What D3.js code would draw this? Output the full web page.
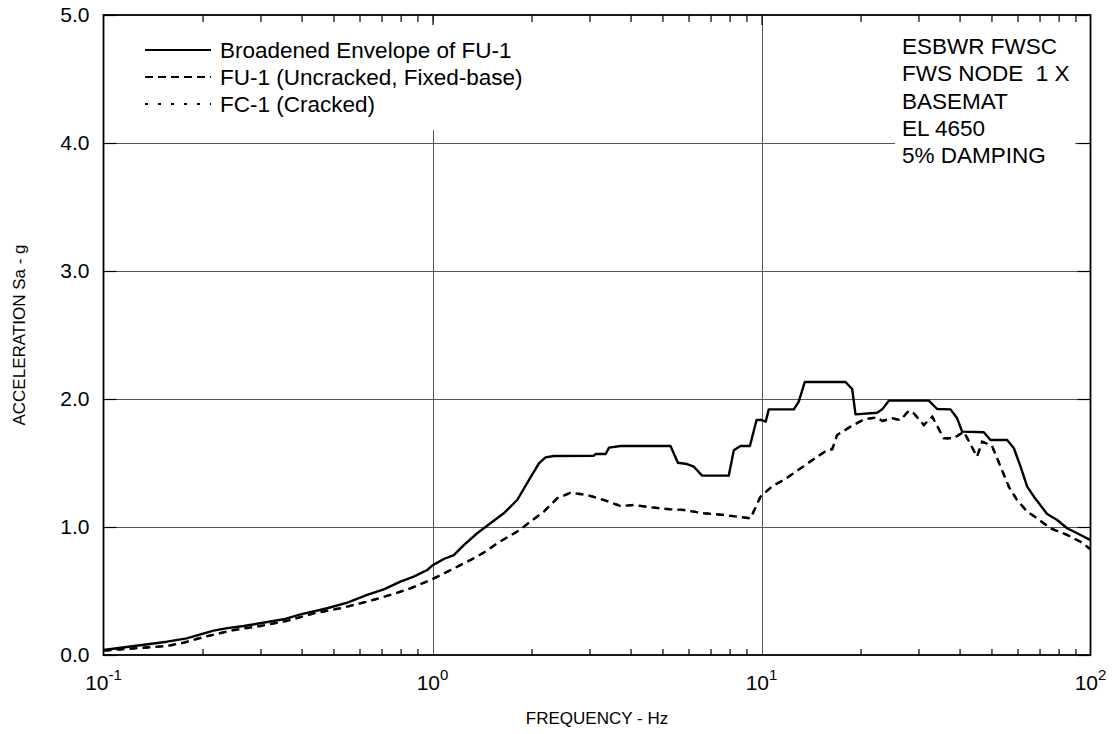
<!DOCTYPE html>
<html>
<head>
<meta charset="utf-8">
<script src="https://cdn.jsdelivr.net/npm/d3@7"></script>
<style>
  html, body { margin: 0; padding: 0; background: #fff; }
  svg { display: block; font-family: "Liberation Sans", Arial, sans-serif; }
</style>
</head>
<body>
<svg id="chart" width="1113" height="734"></svg>
<script>
// ---------------- data ----------------
const envFreq = [0.1, 0.124, 0.156, 0.179, 0.216, 0.238, 0.267, 0.353, 0.397, 0.479, 0.551, 0.633, 0.711, 0.799, 0.877, 0.964, 1.0, 1.082, 1.161, 1.245, 1.367, 1.50, 1.647, 1.809, 1.963, 2.106, 2.206, 2.337, 3.09, 3.13, 3.36, 3.44, 3.73, 5.29, 5.57, 5.94, 6.23, 6.60, 7.95, 8.24, 8.63, 9.22, 9.66, 10.0, 10.3, 10.52, 12.54, 12.98, 13.54, 18.0, 18.86, 19.31, 22.47, 23.27, 24.38, 32.26, 34.2, 37.54, 39.33, 40.73, 47.4, 49.66, 55.8, 58.5, 61.3, 64.2, 67.3, 73.8, 79.2, 84.9, 91.1, 100];
const envAcc  = [0.039, 0.07, 0.104, 0.13, 0.19, 0.21, 0.227, 0.279, 0.318, 0.365, 0.409, 0.469, 0.513, 0.573, 0.612, 0.664, 0.70, 0.75, 0.78, 0.859, 0.951, 1.029, 1.107, 1.211, 1.367, 1.497, 1.544, 1.555, 1.557, 1.57, 1.57, 1.62, 1.633, 1.633, 1.502, 1.492, 1.471, 1.401, 1.401, 1.60, 1.633, 1.633, 1.836, 1.836, 1.823, 1.919, 1.919, 1.979, 2.133, 2.133, 2.078, 1.880, 1.893, 1.919, 1.987, 1.987, 1.922, 1.919, 1.849, 1.745, 1.740, 1.680, 1.680, 1.615, 1.471, 1.315, 1.237, 1.102, 1.055, 0.99, 0.951, 0.898];

const fuFreq = [0.1, 0.124, 0.156, 0.175, 0.207, 0.249, 0.30, 0.361, 0.436, 0.525, 0.633, 0.745, 0.857, 0.986, 1.06, 1.305, 1.432, 1.573, 1.809, 1.986, 2.18, 2.393, 2.628, 2.95, 3.317, 3.73, 4.09, 4.60, 5.29, 5.80, 6.68, 7.68, 9.26, 9.93, 10.8, 11.69, 13.14, 14.77, 15.84, 16.4, 16.98, 18.65, 20.47, 22.47, 23.27, 24.95, 26.46, 28.04, 29.04, 31.14, 33.02, 35.8, 38.4, 41.2, 45.2, 46.85, 50.2, 53.3, 56.45, 59.8, 64.2, 68.85, 75.5, 84.9, 93.2, 100];
const fuAcc  = [0.034, 0.052, 0.07, 0.096, 0.148, 0.195, 0.227, 0.266, 0.326, 0.365, 0.417, 0.469, 0.521, 0.586, 0.625, 0.742, 0.80, 0.873, 0.964, 1.042, 1.12, 1.224, 1.268, 1.25, 1.211, 1.164, 1.172, 1.154, 1.138, 1.133, 1.107, 1.094, 1.068, 1.237, 1.32, 1.367, 1.458, 1.549, 1.602, 1.607, 1.719, 1.784, 1.841, 1.857, 1.828, 1.849, 1.836, 1.909, 1.888, 1.797, 1.862, 1.693, 1.693, 1.745, 1.549, 1.667, 1.633, 1.471, 1.315, 1.211, 1.12, 1.068, 0.99, 0.938, 0.885, 0.826];

// FC-1 (cracked) lies on top of FU-1 in the picture
const fcFreq = [0.1, 0.124, 0.156, 0.175, 0.207, 0.249, 0.30, 0.361, 0.436, 0.525, 0.633, 0.745, 0.857, 0.986, 1.06, 1.305, 1.432, 1.573, 1.809, 1.986, 2.18, 2.393, 2.628, 2.95, 3.317, 3.73, 4.09, 4.60, 5.29, 5.80, 6.68, 7.68, 9.26, 9.93, 10.8, 11.69, 13.14, 14.77, 15.84, 16.4, 16.98, 18.65, 20.47, 22.47, 23.27, 24.95, 26.46, 28.04, 29.04, 31.14, 33.02, 35.8, 38.4, 41.2, 45.2, 46.85, 50.2, 53.3, 56.45, 59.8, 64.2, 68.85, 75.5, 84.9, 93.2, 100];
const fcAcc  = [0.034, 0.052, 0.07, 0.096, 0.148, 0.195, 0.227, 0.266, 0.326, 0.365, 0.417, 0.469, 0.521, 0.586, 0.625, 0.742, 0.80, 0.873, 0.964, 1.042, 1.12, 1.224, 1.268, 1.25, 1.211, 1.164, 1.172, 1.154, 1.138, 1.133, 1.107, 1.094, 1.068, 1.237, 1.32, 1.367, 1.458, 1.549, 1.602, 1.607, 1.719, 1.784, 1.841, 1.857, 1.828, 1.849, 1.836, 1.909, 1.888, 1.797, 1.862, 1.693, 1.693, 1.745, 1.549, 1.667, 1.633, 1.471, 1.315, 1.211, 1.12, 1.068, 0.99, 0.938, 0.885, 0.826];

const yTicks = [0, 1, 2, 3, 4, 5];
const decadeTicks = [0.1, 1, 10, 100];
const decadeExp = ["-1", "0", "1", "2"];
const legendLabels = ["Broadened Envelope of FU-1", "FU-1 (Uncracked, Fixed-base)", "FC-1 (Cracked)"];
const infoLines = ["ESBWR FWSC", "FWS NODE  1 X", "BASEMAT", "EL 4650", "5% DAMPING"];
const xTitle = "FREQUENCY - Hz";
const yTitle = "ACCELERATION Sa - g";

// ---------------- layout ----------------
const L = 103.5, R = 1090.5, T = 15, B = 655;
const svg = d3.select("#chart");
const x = d3.scaleLog().domain([0.1, 100]).range([L, R]);
const y = d3.scaleLinear().domain([0, 5]).range([B, T]);

const minorTicks = [];
[0.1, 1, 10].forEach(d => { for (let k = 2; k <= 9; k++) minorTicks.push(+(d * k).toPrecision(3)); });

// gridlines
const grid = svg.append("g").attr("stroke", "#555").attr("stroke-width", 1);
grid.selectAll("line.h").data([1, 2, 3, 4]).join("line")
  .attr("x1", L).attr("x2", R).attr("y1", d => Math.round(y(d)) + 0.5).attr("y2", d => Math.round(y(d)) + 0.5);
grid.selectAll("line.v").data([1, 10]).join("line")
  .attr("x1", d => Math.round(x(d)) + 0.5).attr("x2", d => Math.round(x(d)) + 0.5).attr("y1", T).attr("y2", B);

// white boxes behind legend and info text
svg.append("rect").attr("x", 135).attr("y", 22).attr("width", 400).attr("height", 108).attr("fill", "#fff");
svg.append("rect").attr("x", 895).attr("y", 24).attr("width", 180).attr("height", 152).attr("fill", "#fff");

// curves
const lineGen = (fx, fy) => d3.line().x((d, i) => x(fx[i])).y((d, i) => y(fy[i]))(fx);
svg.append("path").attr("d", lineGen(fcFreq, fcAcc)).attr("fill", "none").attr("stroke", "#000")
  .attr("stroke-width", 2.3).attr("stroke-dasharray", "3,10").attr("stroke-dashoffset", -2.5);
svg.append("path").attr("d", lineGen(fuFreq, fuAcc)).attr("fill", "none").attr("stroke", "#000")
  .attr("stroke-width", 2.4).attr("stroke-dasharray", "8,5");
svg.append("path").attr("d", lineGen(envFreq, envAcc)).attr("fill", "none").attr("stroke", "#000")
  .attr("stroke-width", 2.4).attr("stroke-linejoin", "round");

// axes (inward ticks)
const axB = svg.append("g").attr("transform", `translate(0,${B})`)
  .call(d3.axisBottom(x).tickValues(minorTicks).tickSize(-6).tickFormat(""));
const axT = svg.append("g").attr("transform", `translate(0,${T})`)
  .call(d3.axisTop(x).tickValues(minorTicks.concat([1, 10])).tickSize(-7).tickFormat(""));
axT.selectAll(".tick line").filter(d => d === 1 || d === 10).attr("y2", 10);
const axL = svg.append("g").attr("transform", `translate(${L},0)`)
  .call(d3.axisLeft(y).tickValues(yTicks).tickSize(-13).tickPadding(14).tickFormat(d3.format(".1f")));
const axR = svg.append("g").attr("transform", `translate(${R},0)`)
  .call(d3.axisRight(y).tickValues(yTicks).tickSize(-13).tickFormat(""));
[axB, axT, axL, axR].forEach(g => {
  g.select(".domain").remove();
  g.selectAll(".tick line").attr("stroke", "#000").attr("stroke-width", 1.2);
});
axL.selectAll(".tick text").attr("font-size", 21).attr("fill", "#000")
  .attr("font-family", "'Liberation Sans', Arial, sans-serif");

// frame
svg.append("rect").attr("x", L).attr("y", T).attr("width", R - L).attr("height", B - T)
  .attr("fill", "none").attr("stroke", "#000").attr("stroke-width", 1.8);

// decade labels
const dl = svg.append("g").attr("font-size", 21).attr("fill", "#000");
decadeTicks.forEach((d, i) => {
  const t = dl.append("text").attr("x", x(d)).attr("y", 690).attr("text-anchor", "middle");
  t.append("tspan").text("10");
  t.append("tspan").attr("font-size", 15).attr("dy", -10).text(decadeExp[i]);
});

// axis titles
svg.append("text").attr("x", 597).attr("y", 724).attr("text-anchor", "middle")
  .attr("font-size", 17).text(xTitle);
svg.append("text").attr("transform", "translate(25,335) rotate(-90)").attr("text-anchor", "middle")
  .attr("font-size", 17).text(yTitle);

// legend
const dashes = [null, "8,5", "3,10"];
const lg = svg.append("g");
legendLabels.forEach((lab, i) => {
  const cy = 50 + i * 27;
  lg.append("line").attr("x1", 145).attr("x2", 211).attr("y1", cy).attr("y2", cy)
    .attr("stroke", "#000").attr("stroke-width", 2.2).attr("stroke-dasharray", dashes[i]);
  lg.append("text").attr("x", 220).attr("y", cy + 7.8).attr("font-size", 22.5).text(lab);
});

// info text
const it = svg.append("g").attr("font-size", 22.5);
infoLines.forEach((s, i) => {
  it.append("text").attr("x", 902).attr("y", 54 + i * 27.3).attr("xml:space", "preserve")
    .style("white-space", "pre").text(s);
});
</script>
</body>
</html>
